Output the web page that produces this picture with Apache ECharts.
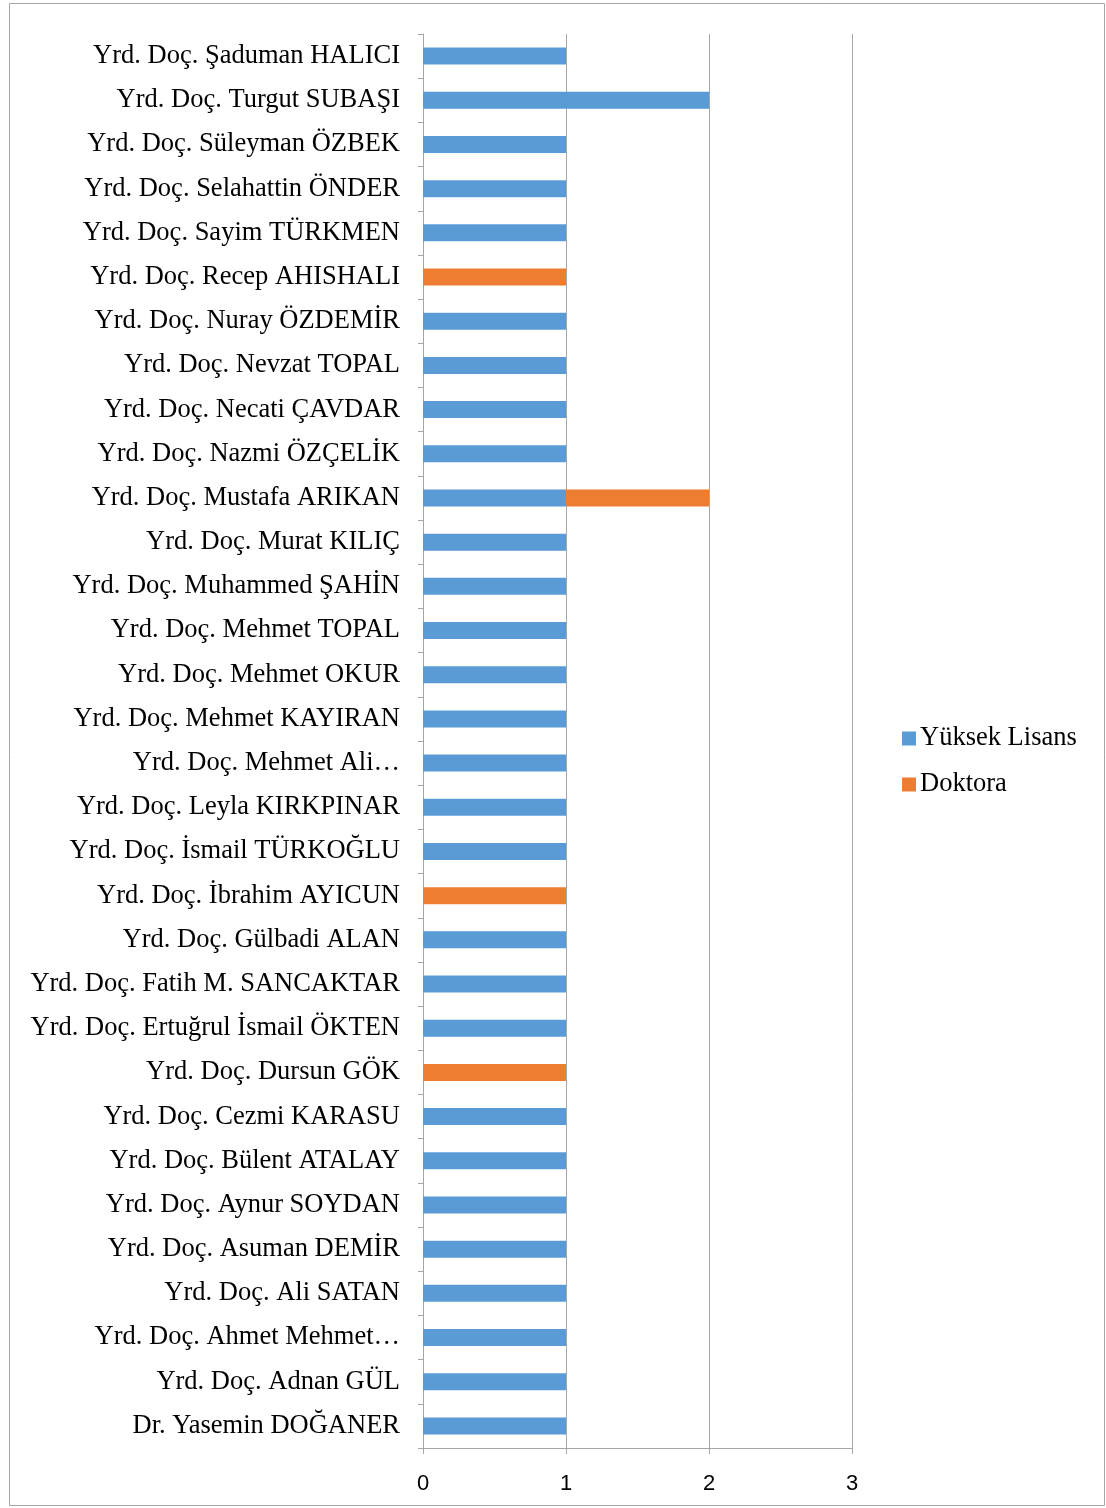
<!DOCTYPE html>
<html>
<head>
<meta charset="utf-8">
<script src="https://cdn.jsdelivr.net/npm/echarts@6/dist/echarts.min.js"></script>
<style>
  html, body { margin: 0; padding: 0; background: #fff; }
  #chart { width: 1106px; height: 1508px; }
</style>
</head>
<body>
<div id="chart"></div>
<script>
// categories, bottom to top (echarts puts the first one at the bottom)
var names = [
  'Dr. Yasemin DOĞANER',
  'Yrd. Doç. Adnan GÜL',
  'Yrd. Doç. Ahmet Mehmet…',
  'Yrd. Doç. Ali SATAN',
  'Yrd. Doç. Asuman DEMİR',
  'Yrd. Doç. Aynur SOYDAN',
  'Yrd. Doç. Bülent ATALAY',
  'Yrd. Doç. Cezmi KARASU',
  'Yrd. Doç. Dursun GÖK',
  'Yrd. Doç. Ertuğrul İsmail ÖKTEN',
  'Yrd. Doç. Fatih M. SANCAKTAR',
  'Yrd. Doç. Gülbadi ALAN',
  'Yrd. Doç. İbrahim AYICUN',
  'Yrd. Doç. İsmail TÜRKOĞLU',
  'Yrd. Doç. Leyla KIRKPINAR',
  'Yrd. Doç. Mehmet Ali…',
  'Yrd. Doç. Mehmet KAYIRAN',
  'Yrd. Doç. Mehmet OKUR',
  'Yrd. Doç. Mehmet TOPAL',
  'Yrd. Doç. Muhammed ŞAHİN',
  'Yrd. Doç. Murat KILIÇ',
  'Yrd. Doç. Mustafa ARIKAN',
  'Yrd. Doç. Nazmi ÖZÇELİK',
  'Yrd. Doç. Necati ÇAVDAR',
  'Yrd. Doç. Nevzat TOPAL',
  'Yrd. Doç. Nuray ÖZDEMİR',
  'Yrd. Doç. Recep AHISHALI',
  'Yrd. Doç. Sayim TÜRKMEN',
  'Yrd. Doç. Selahattin ÖNDER',
  'Yrd. Doç. Süleyman ÖZBEK',
  'Yrd. Doç. Turgut SUBAŞI',
  'Yrd. Doç. Şaduman HALICI'
];
var yuksekLisans = [1,1,1,1,1,1,1,1,0,1,1,1,0,1,1,1,1,1,1,1,1,1,1,1,1,1,0,1,1,1,2,1];
var doktora      = [0,0,0,0,0,0,0,0,1,0,0,0,1,0,0,0,0,0,0,0,0,1,0,0,0,0,1,0,0,0,0,0];
var xTicks = [0, 1, 2, 3];

var chart = echarts.init(document.getElementById('chart'));

var option = {
  backgroundColor: '#fff',
  animation: false,
  graphic: [{
    type: 'rect',
    shape: { x: 9.5, y: 3.5, width: 1095, height: 1502 },
    style: { fill: 'none', stroke: '#a6a6a6', lineWidth: 1 },
    silent: true
  }],
  legend: {
    orient: 'vertical',
    left: 897,
    top: 720,
    itemWidth: 14,
    itemHeight: 14,
    itemGap: 19,
    icon: 'rect',
    textStyle: { fontFamily: 'Liberation Serif', fontSize: 26.5, color: '#000', padding: [0, 0, 0, -1] },
    data: ['Yüksek Lisans', 'Doktora']
  },
  grid: { left: 423, right: 254, top: 34, bottom: 60, containLabel: false },
  xAxis: {
    type: 'value',
    min: xTicks[0],
    max: xTicks[xTicks.length - 1],
    interval: 1,
    axisLine: { show: true, lineStyle: { color: '#a6a6a6', width: 1 } },
    axisTick: { show: true, length: 6, lineStyle: { color: '#a6a6a6' } },
    axisLabel: { fontFamily: 'Liberation Sans', fontSize: 22, color: '#000', margin: 25 },
    splitLine: { show: true, lineStyle: { color: '#a6a6a6', width: 1 } }
  },
  yAxis: {
    type: 'category',
    data: names,
    boundaryGap: true,
    axisLine: { show: true, lineStyle: { color: '#a6a6a6', width: 1 } },
    axisTick: { show: true, length: 5, lineStyle: { color: '#a6a6a6' } },
    axisLabel: { fontFamily: 'Liberation Serif', fontSize: 26.5, color: '#000', margin: 23, padding: [3, 0, 0, 0] }
  },
  series: [
    {
      name: 'Yüksek Lisans',
      type: 'bar',
      stack: 'total',
      barWidth: 17,
      itemStyle: { color: '#5b9bd5' },
      data: yuksekLisans
    },
    {
      name: 'Doktora',
      type: 'bar',
      stack: 'total',
      barWidth: 17,
      itemStyle: { color: '#ed7d31' },
      data: doktora
    }
  ]
};

chart.setOption(option);
</script>
</body>
</html>
